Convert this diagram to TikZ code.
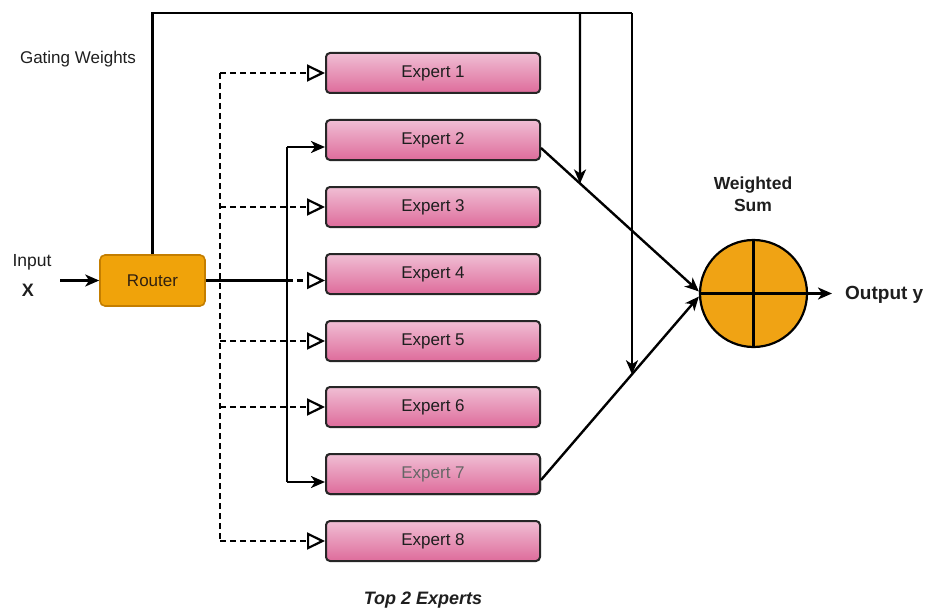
\documentclass[tikz,border=0pt]{standalone}
\usepackage{fontspec}
\setmainfont{Liberation Sans}
\usetikzlibrary{arrows.meta,calc}

\definecolor{expTop}{RGB}{240,190,212}
\definecolor{expBot}{RGB}{222,108,155}
\definecolor{routerFill}{RGB}{240,163,10}
\definecolor{routerLine}{RGB}{196,126,0}
\definecolor{sumFill}{RGB}{240,163,20}
\definecolor{txt}{RGB}{30,30,30}

\tikzset{
  expertbox/.style={draw=black!85, line width=2pt, rounded corners=4pt,
    top color=expTop, bottom color=expBot, minimum width=214pt,
    minimum height=40pt, inner sep=0pt, text=txt,
    font=\fontsize{17}{19}\selectfont},
  routerbox/.style={draw=routerLine, line width=1.6pt, rounded corners=5pt,
    fill=routerFill, minimum width=105pt, minimum height=51pt,
    inner sep=0pt, text=black!75!brown, font=\fontsize{17}{19}\selectfont},
  wire/.style={line width=2.4pt, draw=black},
  arr/.style={wire, -{Stealth[length=14pt,width=12pt,inset=4pt]}},
  dashwire/.style={line width=2.4pt, dash pattern=on 6pt off 4pt},
  openarr/.style={dashwire, -{Triangle[open,length=18pt,width=17pt,line width=2.2pt]}},
  lbl/.style={inner sep=0pt, text=txt, font=\fontsize{17}{19}\selectfont},
}

\begin{document}
\begin{tikzpicture}[x=1pt,y=-1pt]
  \useasboundingbox (0,0) rectangle (930,610);

  % experts
  \foreach \i/\y in {1/73,2/140,3/207,4/274,5/341,6/407,7/474,8/541}{
    \node[expertbox] (e\i) at (433,\y) {Expert \i};
  }
  \node[expertbox, text=black!60] at (e7) {Expert 7};

  % router and input
  \node[routerbox] (router) at (152.5,280.5) {Router};
  \node[lbl, font=\fontsize{17.5}{19}\selectfont] (inlbl) at (32,262) {Input};
  \node[lbl, font=\bfseries\fontsize{18}{20}\selectfont] (inx) at (28,290) {X};
  \coordinate (instart) at (60,280.5);
  \draw[arr] (instart) -- (router.west);

  % weighted sum
  \node[circle, draw=black, line width=2.2pt, fill=sumFill,
        minimum size=107pt, inner sep=0pt] (sum) at (753.5,293.5) {};
  \draw[line width=2.2pt] (sum.north) -- (sum.south);
  \draw[line width=2.2pt] (sum.west) -- (sum.east);
  \node[lbl, align=center, font=\bfseries\fontsize{17.5}{22}\selectfont]
       (wlbl) at (753,194) {Weighted\\Sum};
  \coordinate (outend) at (832,293.5);
  \draw[arr] (sum.east) -- (outend);
  \node[lbl, anchor=west, font=\bfseries\fontsize{19}{21}\selectfont]
       (outlbl) at (845,295) {Output y};

  % routing: selected experts (solid)
  \coordinate (jr) at (287,280.5);
  \coordinate (j2) at (287,147);
  \coordinate (j7) at (287,482);
  \draw[wire] (router.east) -- (jr);
  \draw[wire] (j2) -- (j7);
  \draw[arr] (j2) -- (j2 -| e2.west);
  \draw[arr] (j7) -- (j7 -| e7.west);
  \draw[openarr] (jr) -- (jr -| e4.west);

  % routing: unselected experts (dashed)
  \coordinate (d1) at (220,73);
  \coordinate (d8) at (220,541);
  \draw[dashwire] (d1) -- (d8);
  \foreach \i in {1,3,5,6,8}{
    \draw[openarr] (d1 |- e\i.west) -- (e\i.west);
  }

  % expert outputs to the weighted sum
  \coordinate (o2) at ($(e2.east)+(0,8)$);
  \coordinate (o7) at ($(e7.east)+(0,6)$);
  \coordinate (s2) at ($(sum.west)+(0,-2)$);
  \coordinate (s7) at ($(sum.west)+(0,3)$);
  \draw[arr] (o2) -- (s2);
  \draw[arr] (o7) -- (s7);

  % gating weights
  \coordinate (gl) at (152.5,13);
  \coordinate (ga) at (580,13);
  \coordinate (gb) at (632,13);
  \coordinate (gaend) at (580,600);
  \coordinate (gbend) at (632,600);
  \draw[wire] (router.north) -- (gl) -- (gb);
  \draw[arr] (ga) -- (intersection of ga--gaend and o2--s2);
  \draw[arr] (gb) -- (intersection of gb--gbend and o7--s7);
  \node[lbl] (glbl) at (78,59) {Gating Weights};

  % caption
  \node[lbl, font=\bfseries\itshape\fontsize{18}{20}\selectfont] (cap) at (423,600) {Top 2 Experts};
\end{tikzpicture}
\end{document}
